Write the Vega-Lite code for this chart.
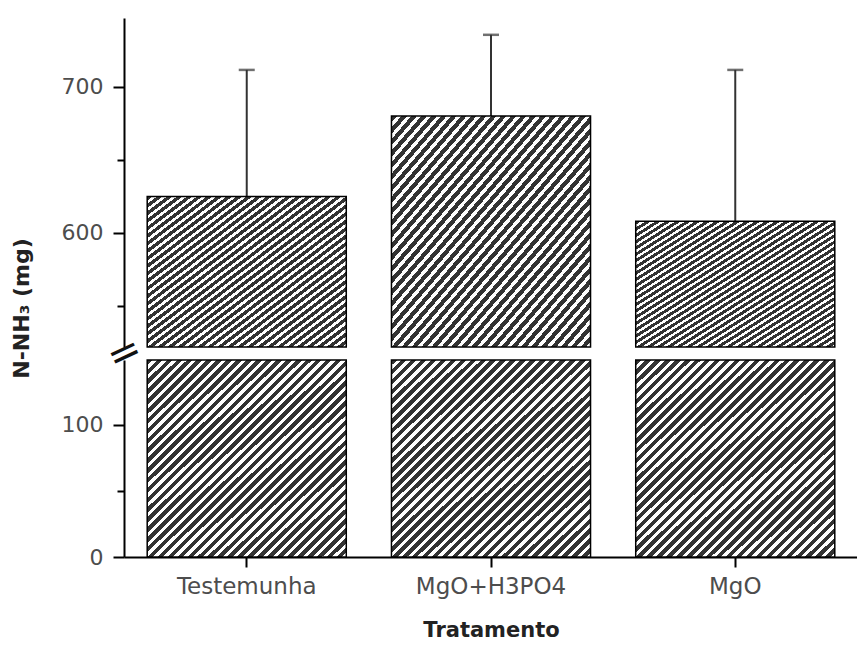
{
  "$schema": "https://vega.github.io/schema/vega-lite/v6.json",
  "padding": {"left": 10, "top": 18, "right": 0, "bottom": 4},
  "bounds": "flush",
  "spacing": 13,
  "data": {"values": [
    {"Tratamento": "Testemunha", "mean": 625, "upper": 711.5},
    {"Tratamento": "MgO+H3PO4", "mean": 680, "upper": 735.5},
    {"Tratamento": "MgO", "mean": 608, "upper": 711.5}
  ]},
  "vconcat": [
    {
      "width": 734,
      "height": 329,
      "layer": [
        {
          "mark": {"type": "rule", "color": "#333", "strokeWidth": 2},
          "encoding": {
            "x": {"field": "Tratamento", "type": "nominal", "sort": ["Testemunha", "MgO+H3PO4", "MgO"], "scale": {"paddingInner": 0.185, "paddingOuter": 0.095}, "axis": null},
            "y": {"field": "mean", "type": "quantitative", "scale": {"domain": [522, 747], "clamp": true, "nice": false, "zero": false},
              "axis": {
                "orient": "left",
                "title": "N-NH₃ (mg)",
                "values": [550, 600, 650, 700],
                "labelExpr": "datum.value % 100 == 0 ? datum.label : ''",
                "tickSize": {"condition": {"test": "datum.value % 100 == 0", "value": 11}, "value": 7},
                "labelPadding": 10,
                "labelFontSize": 22,
                "titleFontSize": 22,
                "titleAngle": 270,
                "titleBaseline": "top",
                "titleAlign": "center",
                "titleX": -113,
                "titleY": 290
              }
            },
            "y2": {"field": "upper"}
          }
        },
        {
          "mark": {"type": "bar"},
          "encoding": {
            "x": {"field": "Tratamento", "type": "nominal", "sort": ["Testemunha", "MgO+H3PO4", "MgO"], "axis": null},
            "y": {"field": "mean", "type": "quantitative", "axis": null}
          }
        },
        {
          "mark": {"type": "tick", "color": "#333", "thickness": 2.5, "size": 16},
          "encoding": {
            "x": {"field": "Tratamento", "type": "nominal", "sort": ["Testemunha", "MgO+H3PO4", "MgO"], "axis": null},
            "y": {"field": "upper", "type": "quantitative",
              "axis": {
                "orient": "left",
                "title": null,
                "values": [522],
                "labelExpr": "'='",
                "domain": false,
                "ticks": false,
                "tickSize": 0,
                "labelPadding": 0,
                "labelAlign": "center",
                "labelBaseline": "middle",
                "labelAngle": -25,
                "labelOffset": 6,
                "labelFontSize": 40,
                "labelColor": "#111"
              }
            }
          }
        }
      ],
      "resolve": {"axis": {"y": "independent"}}
    },
    {
      "width": 734,
      "height": 197,
      "mark": {"type": "bar"},
      "encoding": {
        "x": {"field": "Tratamento", "type": "nominal", "sort": ["Testemunha", "MgO+H3PO4", "MgO"],
          "scale": {"paddingInner": 0.185, "paddingOuter": 0.095},
          "axis": {"title": "Tratamento", "labelAngle": 0, "tickSize": 10, "labelPadding": 8, "titlePadding": 21, "labelFontSize": 23}
        },
        "y": {"field": "mean", "type": "quantitative",
          "scale": {"domain": [0, 149], "clamp": true, "nice": false},
          "axis": {
            "title": null,
            "values": [0, 50, 100],
            "labelExpr": "datum.value % 100 == 0 ? datum.label : ''",
            "tickSize": {"condition": {"test": "datum.value % 100 == 0", "value": 11}, "value": 7},
            "labelPadding": 10,
            "labelFontSize": 22
          }
        }
      }
    }
  ],
  "config": {
    "view": {"stroke": null},
    "axis": {
      "grid": false,
      "domainColor": "#000",
      "domainWidth": 2,
      "tickColor": "#000",
      "tickWidth": 2,
      "labelFont": "DejaVu Sans",
      "labelFontSize": 21,
      "labelColor": "#4d4d4d",
      "titleFont": "DejaVu Sans",
      "titleFontSize": 21,
      "titleFontWeight": "bold",
      "titleColor": "#222"
    },
    "bar": {
      "stroke": "#000",
      "strokeWidth": 1.5,
      "fill": {
        "gradient": "linear", "x1": 0, "y1": 0, "x2": 1, "y2": 1,
        "stops": [
          {"offset": 0, "color": "#333"}, {"offset": 0.014, "color": "#333"}, {"offset": 0.014, "color": "#fff"}, {"offset": 0.025, "color": "#fff"},
          {"offset": 0.025, "color": "#333"}, {"offset": 0.039, "color": "#333"}, {"offset": 0.039, "color": "#fff"}, {"offset": 0.05, "color": "#fff"},
          {"offset": 0.05, "color": "#333"}, {"offset": 0.064, "color": "#333"}, {"offset": 0.064, "color": "#fff"}, {"offset": 0.075, "color": "#fff"},
          {"offset": 0.075, "color": "#333"}, {"offset": 0.089, "color": "#333"}, {"offset": 0.089, "color": "#fff"}, {"offset": 0.1, "color": "#fff"},
          {"offset": 0.1, "color": "#333"}, {"offset": 0.114, "color": "#333"}, {"offset": 0.114, "color": "#fff"}, {"offset": 0.125, "color": "#fff"},
          {"offset": 0.125, "color": "#333"}, {"offset": 0.139, "color": "#333"}, {"offset": 0.139, "color": "#fff"}, {"offset": 0.15, "color": "#fff"},
          {"offset": 0.15, "color": "#333"}, {"offset": 0.164, "color": "#333"}, {"offset": 0.164, "color": "#fff"}, {"offset": 0.175, "color": "#fff"},
          {"offset": 0.175, "color": "#333"}, {"offset": 0.189, "color": "#333"}, {"offset": 0.189, "color": "#fff"}, {"offset": 0.2, "color": "#fff"},
          {"offset": 0.2, "color": "#333"}, {"offset": 0.214, "color": "#333"}, {"offset": 0.214, "color": "#fff"}, {"offset": 0.225, "color": "#fff"},
          {"offset": 0.225, "color": "#333"}, {"offset": 0.239, "color": "#333"}, {"offset": 0.239, "color": "#fff"}, {"offset": 0.25, "color": "#fff"},
          {"offset": 0.25, "color": "#333"}, {"offset": 0.264, "color": "#333"}, {"offset": 0.264, "color": "#fff"}, {"offset": 0.275, "color": "#fff"},
          {"offset": 0.275, "color": "#333"}, {"offset": 0.289, "color": "#333"}, {"offset": 0.289, "color": "#fff"}, {"offset": 0.3, "color": "#fff"},
          {"offset": 0.3, "color": "#333"}, {"offset": 0.314, "color": "#333"}, {"offset": 0.314, "color": "#fff"}, {"offset": 0.325, "color": "#fff"},
          {"offset": 0.325, "color": "#333"}, {"offset": 0.339, "color": "#333"}, {"offset": 0.339, "color": "#fff"}, {"offset": 0.35, "color": "#fff"},
          {"offset": 0.35, "color": "#333"}, {"offset": 0.364, "color": "#333"}, {"offset": 0.364, "color": "#fff"}, {"offset": 0.375, "color": "#fff"},
          {"offset": 0.375, "color": "#333"}, {"offset": 0.389, "color": "#333"}, {"offset": 0.389, "color": "#fff"}, {"offset": 0.4, "color": "#fff"},
          {"offset": 0.4, "color": "#333"}, {"offset": 0.414, "color": "#333"}, {"offset": 0.414, "color": "#fff"}, {"offset": 0.425, "color": "#fff"},
          {"offset": 0.425, "color": "#333"}, {"offset": 0.439, "color": "#333"}, {"offset": 0.439, "color": "#fff"}, {"offset": 0.45, "color": "#fff"},
          {"offset": 0.45, "color": "#333"}, {"offset": 0.464, "color": "#333"}, {"offset": 0.464, "color": "#fff"}, {"offset": 0.475, "color": "#fff"},
          {"offset": 0.475, "color": "#333"}, {"offset": 0.489, "color": "#333"}, {"offset": 0.489, "color": "#fff"}, {"offset": 0.5, "color": "#fff"},
          {"offset": 0.5, "color": "#333"}, {"offset": 0.514, "color": "#333"}, {"offset": 0.514, "color": "#fff"}, {"offset": 0.525, "color": "#fff"},
          {"offset": 0.525, "color": "#333"}, {"offset": 0.539, "color": "#333"}, {"offset": 0.539, "color": "#fff"}, {"offset": 0.55, "color": "#fff"},
          {"offset": 0.55, "color": "#333"}, {"offset": 0.564, "color": "#333"}, {"offset": 0.564, "color": "#fff"}, {"offset": 0.575, "color": "#fff"},
          {"offset": 0.575, "color": "#333"}, {"offset": 0.589, "color": "#333"}, {"offset": 0.589, "color": "#fff"}, {"offset": 0.6, "color": "#fff"},
          {"offset": 0.6, "color": "#333"}, {"offset": 0.614, "color": "#333"}, {"offset": 0.614, "color": "#fff"}, {"offset": 0.625, "color": "#fff"},
          {"offset": 0.625, "color": "#333"}, {"offset": 0.639, "color": "#333"}, {"offset": 0.639, "color": "#fff"}, {"offset": 0.65, "color": "#fff"},
          {"offset": 0.65, "color": "#333"}, {"offset": 0.664, "color": "#333"}, {"offset": 0.664, "color": "#fff"}, {"offset": 0.675, "color": "#fff"},
          {"offset": 0.675, "color": "#333"}, {"offset": 0.689, "color": "#333"}, {"offset": 0.689, "color": "#fff"}, {"offset": 0.7, "color": "#fff"},
          {"offset": 0.7, "color": "#333"}, {"offset": 0.714, "color": "#333"}, {"offset": 0.714, "color": "#fff"}, {"offset": 0.725, "color": "#fff"},
          {"offset": 0.725, "color": "#333"}, {"offset": 0.739, "color": "#333"}, {"offset": 0.739, "color": "#fff"}, {"offset": 0.75, "color": "#fff"},
          {"offset": 0.75, "color": "#333"}, {"offset": 0.764, "color": "#333"}, {"offset": 0.764, "color": "#fff"}, {"offset": 0.775, "color": "#fff"},
          {"offset": 0.775, "color": "#333"}, {"offset": 0.789, "color": "#333"}, {"offset": 0.789, "color": "#fff"}, {"offset": 0.8, "color": "#fff"},
          {"offset": 0.8, "color": "#333"}, {"offset": 0.814, "color": "#333"}, {"offset": 0.814, "color": "#fff"}, {"offset": 0.825, "color": "#fff"},
          {"offset": 0.825, "color": "#333"}, {"offset": 0.839, "color": "#333"}, {"offset": 0.839, "color": "#fff"}, {"offset": 0.85, "color": "#fff"},
          {"offset": 0.85, "color": "#333"}, {"offset": 0.864, "color": "#333"}, {"offset": 0.864, "color": "#fff"}, {"offset": 0.875, "color": "#fff"},
          {"offset": 0.875, "color": "#333"}, {"offset": 0.889, "color": "#333"}, {"offset": 0.889, "color": "#fff"}, {"offset": 0.9, "color": "#fff"},
          {"offset": 0.9, "color": "#333"}, {"offset": 0.914, "color": "#333"}, {"offset": 0.914, "color": "#fff"}, {"offset": 0.925, "color": "#fff"},
          {"offset": 0.925, "color": "#333"}, {"offset": 0.939, "color": "#333"}, {"offset": 0.939, "color": "#fff"}, {"offset": 0.95, "color": "#fff"},
          {"offset": 0.95, "color": "#333"}, {"offset": 0.964, "color": "#333"}, {"offset": 0.964, "color": "#fff"}, {"offset": 0.975, "color": "#fff"},
          {"offset": 0.975, "color": "#333"}, {"offset": 0.989, "color": "#333"}, {"offset": 0.989, "color": "#fff"}, {"offset": 1, "color": "#fff"}
        ]
      }
    }
  }
}
